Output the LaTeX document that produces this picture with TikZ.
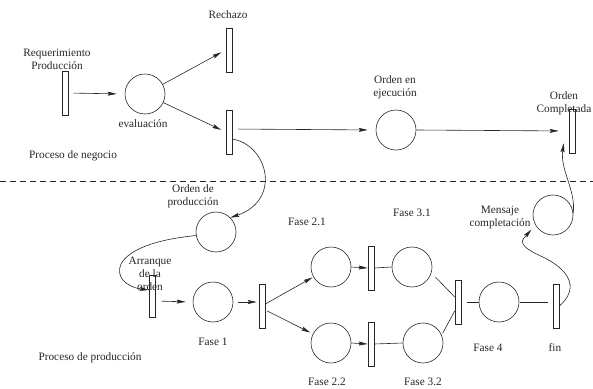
\documentclass[tikz,border=0pt]{standalone}
\usepackage{fontspec}
\setmainfont{Liberation Serif}
\usetikzlibrary{arrows.meta}
\tikzset{
	lugar/.style={draw, circle, minimum size=40pt, inner sep=0pt},
	trans/.style={draw, rectangle, minimum width=6pt, minimum height=44pt, inner sep=0pt},
	etiq/.style={align=center, inner sep=0pt},
	arco/.style={-{Stealth[length=9pt, width=4pt, inset=1.5pt]}},
}

\begin{document}
\begin{tikzpicture}[x=1pt, y=-1pt, line width=0.6pt, color=black!85, font=\fontsize{11.3}{13}\selectfont]
			%%%%% START %%%%%
			\useasboundingbox (0, 0) rectangle (593, 388);
			
			% proceso de negocio
			\node[trans] (req) at (65, 93) {};
			\node[lugar] (eval) at (145, 94) {};
			\node[trans] (rechazo) at (229, 50) {};
			\node[trans] (acept) at (229, 132) {};
			\node[lugar] (ejec) at (396, 130) {};
			\node[trans] (ocompl) at (572, 131) {};
			
			\node[etiq] (lreq) at (57, 59) {Requerimiento\\Producción};
			\node[etiq] (lrech) at (228, 15) {Rechazo};
			\node[etiq] (leval) at (143, 124) {evaluación};
			\node[etiq] (lejec) at (395, 87) {Orden en\\ejecución};
			\node[etiq] (locompl) at (564, 103) {Orden\\Completada};
			\node[etiq] (lneg) at (73, 156) {Proceso de negocio};
			
			\draw[arco, shorten <=5pt, shorten >=8pt] (req.east) -- (eval.west);
			\draw[arco, shorten >=5pt] (eval) -- (rechazo.west);
			\draw[arco, shorten >=5pt] (eval) -- (acept.west);
			\draw[arco, shorten <=6pt, shorten >=8pt] ([yshift=3pt]acept.east) -- (ejec.west);
			\draw[arco, shorten >=10pt] (ejec.east) -- (ocompl.west);
			
			\draw[dash pattern=on 6pt off 4pt] (0, 181) -- (593, 181);
			
			% proceso de produccion
			\node[lugar] (prod) at (216, 232) {};
			\node[trans, minimum height=42pt] (arr) at (152, 296) {};
			\node[lugar] (fase1) at (213, 302) {};
			\node[trans] (t1) at (262, 306) {};
			\node[lugar] (f21) at (331, 267) {};
			\node[lugar] (f22) at (331, 343) {};
			\node[trans] (t21) at (371, 268) {};
			\node[trans] (t22) at (371, 344) {};
			\node[lugar] (f31) at (412, 267) {};
			\node[lugar] (f32) at (423, 343) {};
			\node[trans] (tjoin) at (458, 302) {};
			\node[lugar] (f4) at (499, 302) {};
			\node[trans] (tfin) at (556, 306) {};
			\node[lugar] (mensaje) at (553, 215) {};
			
			\node[etiq] (lprod) at (193, 196) {Orden de\\producción};
			\node[etiq] (larr) at (150, 274) {Arranque\\de la\\orden};
			\node[etiq] (lf1) at (213, 342) {Fase 1};
			\node[etiq] (lf21) at (307, 222) {Fase 2.1};
			\node[etiq] (lf22) at (327, 382) {Fase 2.2};
			\node[etiq] (lf31) at (412, 213) {Fase 3.1};
			\node[etiq] (lf32) at (423, 382) {Fase 3.2};
			\node[etiq] (lf4) at (488, 348) {Fase 4};
			\node[etiq] (lfin) at (555, 348) {fin};
			\node[etiq] (lmens) at (500, 217) {Mensaje\\completación};
			\node[etiq] (lpro) at (90, 358) {Proceso de producción};
			
			\draw[arco] ([yshift=-7pt]acept.east) .. controls (268, 145) and (282, 200) .. (prod.45);
			\draw[arco] (prod.190) .. controls (100, 245) and (110, 285) .. ([yshift=6pt]arr.west);
			\draw[arco, shorten <=6pt, shorten >=7pt] ([yshift=-5pt]arr.east) -- (fase1.west);
			\draw[arco, shorten <=5pt, shorten >=2pt] (fase1.east) -- ([yshift=4pt]t1.west);
			\draw[arco, shorten >=1pt] ([yshift=2pt]t1.east) -- (f21);
			\draw[arco, shorten <=2pt, shorten >=3pt] ([yshift=-4pt]t1.east) -- (f22);
			\draw[arco] (f21.east) -- (t21.west);
			\draw[arco] (f22.east) -- (t22.west);
			\draw (t21.east) -- (f31.west);
			\draw (t22.east) -- (f32.west);
			\draw[shorten <=6pt] (f31.-17) -- ([yshift=5pt]tjoin.west);
			\draw[shorten <=2pt] (f32.23) -- ([yshift=-9pt]tjoin.west);
			\draw[shorten <=6pt] (tjoin.east) -- (f4.west);
			\draw[shorten <=1pt, shorten >=5pt] (f4.east) -- ([yshift=4pt]tfin.west);
			
			\draw[arco, shorten >=6pt] (tfin.east) .. controls (578, 290) and (572, 272) .. (545, 258)
				.. controls (515, 245) and (522, 240) .. (mensaje.-150);
			\draw[arco] (mensaje.5) .. controls (576, 190) and (560, 170) .. ([xshift=-5pt, yshift=10pt]ocompl.south west);
			
			%%%%% END %%%%%
\end{tikzpicture}
\end{document}
